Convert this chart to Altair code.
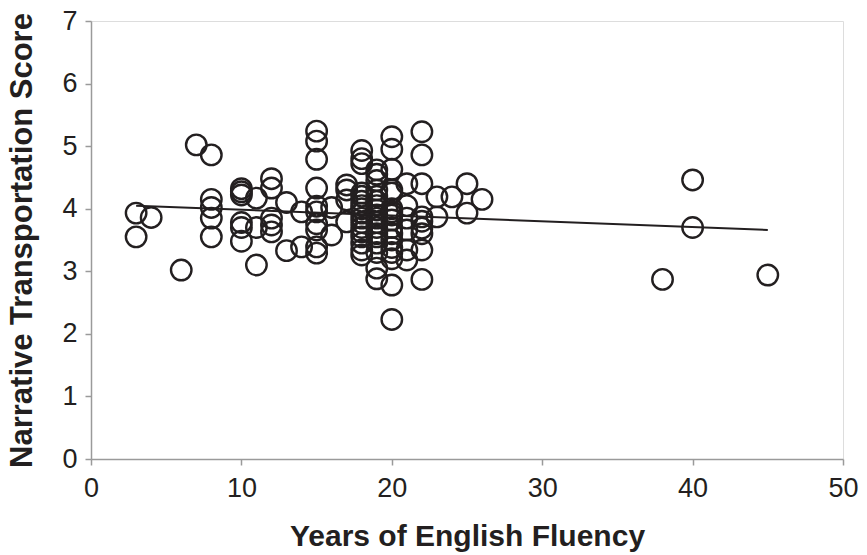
import altair as alt
import pandas as pd

years = (
    [3, 3, 4, 6, 7]
    + [8] * 5
    + [10] * 6
    + [11] * 3
    + [12] * 5
    + [13] * 2
    + [14] * 2
    + [15] * 10
    + [16] * 2
    + [17] * 4
    + [18] * 17
    + [19] * 18
    + [20] * 17
    + [21] * 6
    + [22] * 9
    + [23] * 2
    + [24]
    + [25] * 2
    + [26]
    + [38, 40, 40, 45]
)
scores = (
    [3.93, 3.55, 3.86, 3.02, 5.02]
    + [4.86, 4.15, 4.02, 3.85, 3.55]
    + [4.32, 4.27, 4.22, 3.78, 3.70, 3.48]
    + [4.17, 3.70, 3.10]
    + [4.48, 4.33, 3.85, 3.74, 3.63]
    + [4.10, 3.33]
    + [3.95, 3.39]
    + [5.24, 5.08, 4.79, 4.33, 4.04, 3.95, 3.76, 3.66, 3.39, 3.29]
    + [4.02, 3.58]
    + [4.38, 4.30, 4.14, 3.79]
    + [4.93, 4.80, 4.72, 4.25, 4.20, 4.12, 4.05, 4.00, 3.93, 3.85, 3.78, 3.70, 3.63, 3.55, 3.45, 3.34, 3.26]
    + [4.62, 4.55, 4.45, 4.30, 4.20, 4.12, 4.05, 3.98, 3.90, 3.85, 3.78, 3.70, 3.60, 3.55, 3.45, 3.30, 3.05, 2.88]
    + [5.15, 4.95, 4.63, 4.30, 4.25, 4.00, 3.95, 3.90, 3.82, 3.70, 3.60, 3.50, 3.38, 3.30, 3.20, 2.78, 2.23]
    + [4.40, 4.05, 3.85, 3.66, 3.34, 3.18]
    + [5.23, 4.86, 4.40, 3.87, 3.80, 3.69, 3.60, 3.34, 2.87]
    + [4.19, 3.87]
    + [4.19]
    + [4.40, 3.93]
    + [4.15]
    + [2.87, 4.46, 3.70, 2.94]
)

df = pd.DataFrame({"years": years, "score": scores})

LABEL_FONT = "Liberation Sans"
TITLE_FONT = "Liberation Sans"
AXIS_GRAY = "#9a9a9a"
TEXT = "#231f20"

common = dict(
    grid=False,
    domainColor=AXIS_GRAY,
    domainWidth=1.5,
    tickColor=AXIS_GRAY,
    tickWidth=1.5,
    tickSize=6,
    labelFont=LABEL_FONT,
    labelFontSize=27,
    labelColor=TEXT,
    labelFlush=False,
    format="d",
    titleFont=TITLE_FONT,
    titleFontWeight="bold",
    titleColor=TEXT,
)

x_enc = alt.X(
    "years:Q",
    scale=alt.Scale(domain=[0, 50], nice=False, zero=False),
    axis=alt.Axis(
        title="Years of English Fluency",
        values=[0, 10, 20, 30, 40, 50],
        labelPadding=10,
        titlePadding=20,
        titleFontSize=30,
        **common,
    ),
)
y_enc = alt.Y(
    "score:Q",
    scale=alt.Scale(domain=[0, 7], nice=False, zero=False),
    axis=alt.Axis(
        title="Narrative Transportation Score",
        values=[0, 1, 2, 3, 4, 5, 6, 7],
        labelPadding=8,
        titlePadding=23,
        titleFontSize=31,
        **common,
    ),
)

points = alt.Chart(df).mark_point(
    shape="circle", filled=False, size=420, stroke="#231f20", strokeWidth=2.4, opacity=1
).encode(x=x_enc, y=y_enc)

trend = (
    alt.Chart(df)
    .transform_regression("years", "score")
    .mark_line(color="#231f20", strokeWidth=2)
    .encode(x="years:Q", y="score:Q")
)

chart = (
    alt.layer(points, trend)
    .properties(
        width=752,
        height=438,
        autosize=alt.AutoSizeParams(type="none"),
        padding={"left": 91, "top": 21, "right": 24, "bottom": 96},
    )
    .configure_view(stroke=None)
    .configure(background="white")
)

chart.save("out.html", embed_options={"renderer": "svg", "actions": False})
